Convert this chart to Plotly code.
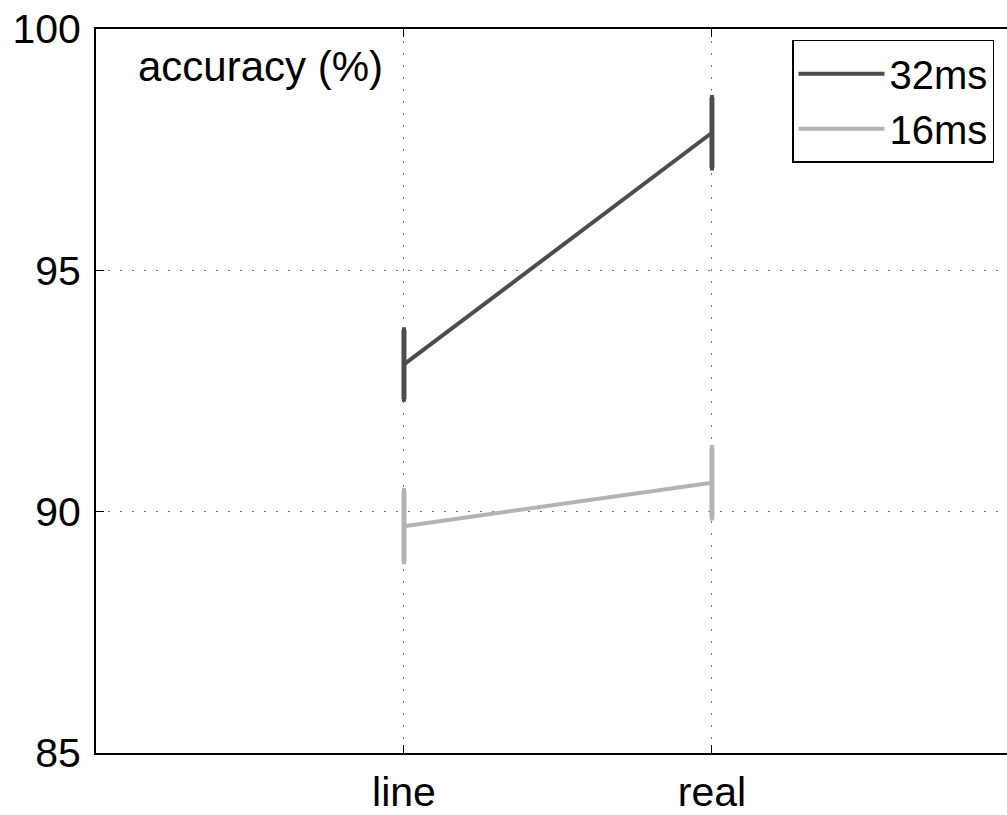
import plotly.graph_objects as go

categories = ["line", "real"]
x_pos = [1, 2]
acc_32 = [93.05, 97.85]
err_32 = [0.72, 0.73]
acc_16 = [89.7, 90.6]
err_16 = [0.74, 0.73]
y_ticks = [85, 90, 95, 100]

FONT = "Liberation Sans, Arial, Helvetica, sans-serif"

fig = go.Figure()
fig.add_trace(go.Scatter(
    x=x_pos, y=acc_32, mode="lines", name="32ms",
    line=dict(color="#4d4d4d", width=4),
    error_y=dict(type="data", array=err_32, visible=True, color="#4d4d4d", thickness=5, width=2),
))
fig.add_trace(go.Scatter(
    x=x_pos, y=acc_16, mode="lines", name="16ms",
    line=dict(color="#b3b3b3", width=4),
    error_y=dict(type="data", array=err_16, visible=True, color="#b3b3b3", thickness=5, width=2),
))

fig.add_annotation(
    text="accuracy (%)", xref="paper", yref="paper", x=0.0439, y=0.948,
    xanchor="left", yanchor="middle", showarrow=False,
    font=dict(family=FONT, size=42, color="black"),
)

fig.update_layout(
    width=1007, height=815,
    margin=dict(l=96, r=0, t=29, b=55),
    paper_bgcolor="white", plot_bgcolor="white",
    font=dict(family=FONT, size=41, color="black"),
    showlegend=True,
    legend=dict(
        x=0.764, y=0.985, xanchor="left", yanchor="top",
        bgcolor="white", bordercolor="black", borderwidth=1.5,
        font=dict(family=FONT, size=40, color="black"),
        tracegroupgap=0, itemwidth=86,
    ),
    xaxis=dict(
        range=[0, 2.958], tickvals=x_pos, ticktext=categories,
        showline=True, linecolor="black", linewidth=2, mirror="ticks",
        ticks="inside", ticklen=8, tickcolor="black", tickwidth=1,
        showgrid=True, gridcolor="#7a7a7a", gridwidth=1, griddash="2px,10px",
        zeroline=False, ticklabelstandoff=2,
    ),
    yaxis=dict(
        range=[85, 100], tickvals=y_ticks,
        showline=True, linecolor="black", linewidth=2,
        ticks="inside", ticklen=8, tickcolor="black", tickwidth=1,
        showgrid=True, gridcolor="#7a7a7a", gridwidth=1, griddash="2px,10px",
        zeroline=False, ticklabelstandoff=5, ticklabeloverflow="allow",
    ),
)

page_css = "document.body.style.margin='0';document.body.style.overflow='hidden';"
fig.write_html("out.html", post_script=page_css, config={"displayModeBar": False})
